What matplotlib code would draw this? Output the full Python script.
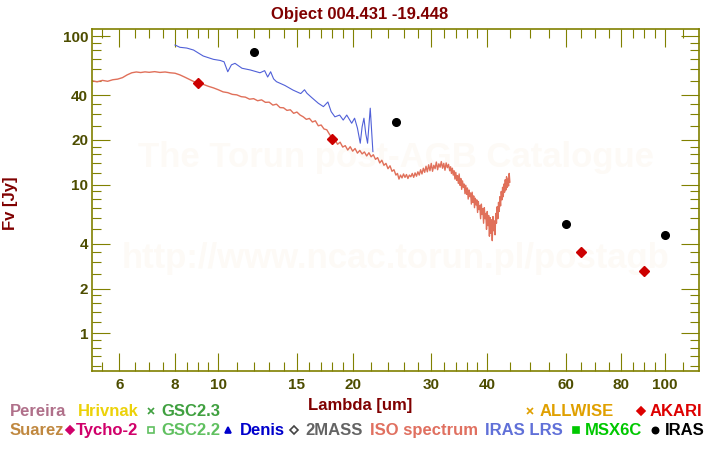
import matplotlib
matplotlib.use('Agg')
import matplotlib.pyplot as plt
from matplotlib.lines import Line2D

plt.rcParams['font.family'] = ['Liberation Sans', 'DejaVu Sans']
plt.rcParams['font.weight'] = 'bold'

# ISO spectrum (wavelength um, flux Jy)
iso_wl = [5.22, 5.35, 5.5, 5.65, 5.8, 5.95, 6.1, 6.25, 6.4, 6.55, 6.7, 6.85, 7.0, 7.2, 7.4,
          7.6, 7.8, 8.0, 8.2, 8.4, 8.6, 8.8, 9.0,
          9.25, 9.5, 9.75, 10.0, 10.25, 10.5, 10.75, 11.0, 11.25, 11.5, 11.75, 12.0, 12.25,
          12.5, 12.75, 13.0, 13.25, 13.5, 13.75, 14.0, 14.25, 14.5, 14.75, 15.0, 15.25, 15.5,
          15.75, 16.0, 16.25, 16.5, 16.75, 17.0, 17.25, 17.5, 17.75, 18.0, 18.25, 18.5, 18.75,
          19.0, 19.25, 19.5, 19.75, 20.0, 20.25, 20.5, 20.75, 21.0, 21.25, 21.5, 21.75, 22.0,
          22.25, 22.5, 22.75, 23.0, 23.25, 23.5, 23.75, 24.0, 24.25, 24.5, 24.75, 25.0,
          25.2, 25.4, 25.6, 25.8, 26.0, 26.2, 26.4, 26.6, 26.8, 27.0, 27.2, 27.4, 27.6, 27.8,
          28.0, 28.2, 28.4, 28.6, 28.8, 29.0, 29.2, 29.4, 29.6, 29.8, 30.0, 30.2, 30.4, 30.6,
          30.8, 31.0, 31.2, 31.4, 31.6, 31.8, 32.0, 32.2, 32.4, 32.6, 32.8, 33.0,
          33.15, 33.3, 33.45, 33.6, 33.75, 33.9, 34.05, 34.2, 34.35, 34.5, 34.65, 34.8, 34.95,
          35.1, 35.25, 35.4, 35.55, 35.7, 35.85, 36.0, 36.15, 36.3, 36.45, 36.6, 36.75, 36.9,
          37.05, 37.2, 37.35, 37.5, 37.65, 37.8, 37.95, 38.1, 38.25, 38.4, 38.55, 38.7, 38.85,
          39.0, 39.15, 39.3, 39.45, 39.6, 39.75, 39.9, 40.05, 40.2, 40.35, 40.5, 40.65, 40.8,
          40.95, 41.1, 41.25, 41.4, 41.55, 41.7, 41.85, 42.0, 42.15, 42.3, 42.45, 42.6, 42.75,
          42.9, 43.05, 43.2, 43.35, 43.5, 43.65, 43.8, 43.95, 44.1, 44.25, 44.4, 44.55, 44.7,
          44.85, 45.0]
iso_fl = [50.0, 49.2, 50.3, 49.6, 50.8, 51.3, 52.5, 54.8, 56.6, 57.3, 56.8, 57.4, 57.0, 57.6, 56.9,
          57.3, 56.6, 56.2, 54.8, 53.0, 51.2, 49.5, 48.2,
          47.3, 45.9, 44.8, 43.5, 42.1, 41.6, 40.5, 40.2, 39.1, 38.8, 37.6, 37.9, 36.7,
          37.2, 35.8, 35.9, 34.3, 34.8, 33.0, 32.9, 31.6, 31.9, 30.2, 30.8, 29.4, 28.6,
          27.5, 27.9, 26.4, 26.9, 24.9, 25.2, 23.7, 23.4, 21.8, 20.6, 20.1, 18.7, 19.3,
          17.9, 18.3, 17.1, 18.0, 16.8, 17.5, 16.3, 17.0, 16.1, 16.6, 15.6, 16.4, 15.4,
          15.9, 14.8, 15.2, 14.0, 14.6, 13.5, 13.9, 12.8, 13.4, 12.3, 12.6, 11.6,
          11.9, 10.9, 11.6, 11.1, 11.8, 11.2, 11.7, 11.0, 11.6, 11.3, 11.9, 11.2, 12.0, 11.4,
          12.2, 11.6, 12.6, 11.8, 12.9, 12.1, 13.3, 12.2, 13.6, 12.4, 13.9, 12.3, 13.5, 12.8,
          14.2, 12.6, 13.8, 13.1, 14.3, 12.9, 13.9, 12.5, 14.0, 13.0, 13.7, 12.4,
          13.2, 11.9, 12.9, 11.6, 12.4, 10.9, 12.1, 10.7, 11.5, 10.2, 11.8, 9.9, 11.0,
          9.3, 10.6, 9.6, 10.1, 8.7, 9.9, 8.6, 9.5, 8.0, 9.2, 8.3, 8.8, 7.4,
          8.9, 7.6, 8.4, 7.0, 8.1, 7.3, 7.9, 6.5, 7.7, 6.8, 7.2, 5.9, 7.4,
          6.3, 6.9, 5.5, 7.0, 5.9, 6.4, 5.0, 6.6, 5.3, 6.2, 4.5, 6.0, 4.7,
          5.8, 4.2, 6.1, 4.9, 5.7, 4.6, 6.4, 5.5, 7.1, 5.9, 7.6, 6.6, 8.3,
          7.2, 9.0, 7.9, 9.6, 8.3, 10.1, 8.9, 10.8, 9.2, 11.3, 9.6, 10.9, 9.8,
          11.9, 10.4]

# IRAS LRS spectrum
lrs_wl = [8.0, 8.2, 8.5, 8.8, 9.25, 9.75, 10.1, 10.3, 10.5, 10.7, 10.9, 11.3, 11.8, 12.4,
          12.7, 12.9, 13.1, 13.3, 13.5, 14.1, 14.7, 15.3, 15.6, 15.8, 16.2, 16.75, 17.2, 17.6,
          17.9, 18.25, 18.7, 19.05, 19.4, 19.9, 20.2, 20.5, 20.8, 21.0, 21.2, 21.4, 21.6,
          21.9, 22.2]
lrs_fl = [87, 84, 83, 80.5, 73.4, 69.7, 68.5, 67.1, 57.5, 64.0, 65.5, 60.7, 59.1, 56.6,
          58.5, 53.0, 57.5, 51.5, 49.3, 46.5, 43.3, 41.0, 43.5, 41.2, 38.5, 35.3, 33.5, 36.0,
          31.0, 28.6, 29.4, 27.2, 29.4, 25.9, 28.0, 24.0, 19.0, 24.5, 28.0, 22.0, 19.0,
          32.7, 16.7]

# photometry
iras_wl = [12, 25, 60, 100]
iras_fl = [77.7, 26.3, 5.42, 4.57]
akari_wl = [9, 18, 65, 90]
akari_fl = [48.1, 20.2, 3.51, 2.62]

x_major = [6, 8, 10, 15, 20, 30, 40, 60, 80, 100]
x_minor = [5.5, 6.5, 7, 7.5, 8.5, 9, 9.5, 11, 12, 13, 14, 16, 17, 18, 19, 22, 24, 26, 28,
           32, 34, 36, 38, 45, 50, 55, 65, 70, 75, 85, 90, 95, 110]
y_major = [1, 2, 4, 10, 20, 40, 100]
y_minor = [0.6, 0.7, 0.8, 0.9, 1.2, 1.4, 1.6, 1.8, 2.5, 3, 3.5, 5, 6, 7, 8, 9,
           12, 14, 16, 18, 25, 30, 35, 50, 60, 70, 80, 90]

olive = '#808000'
tick_text = '#4d4d00'
dark_red = '#800000'

W, H = 720, 450
fig = plt.figure(figsize=(7.2, 4.5), dpi=100)
ax = fig.add_axes([92.3 / W, 1 - 370.7 / H, 607 / W, 341.4 / H])

# watermark
ax.text(0.5, 0.625, 'The Torun post-AGB Catalogue', transform=ax.transAxes, ha='center',
        va='center', fontsize=25, color='#fdfaf6', zorder=0)
ax.text(0.5, 0.33, 'http://www.ncac.torun.pl/postagb', transform=ax.transAxes, ha='center',
        va='center', fontsize=25, color='#fdfaf6', zorder=0)

ax.plot(iso_wl, iso_fl, color='#e0705a', lw=1.0, zorder=2)
ax.plot(lrs_wl, lrs_fl, color='#5060d8', lw=0.8, zorder=2)
ax.plot(iras_wl, iras_fl, 'o', color='black', ms=5.5, zorder=4)
ax.plot(akari_wl, akari_fl, 'D', color='#cc0000', ms=5.5, zorder=4)

ax.set_xscale('log')
ax.set_yscale('log')
ax.set_xlim(5.22, 119.6)
ax.set_ylim(0.56, 111)
ax.set_xticks(x_major)
ax.set_xticklabels([str(v) for v in x_major])
ax.set_xticks(x_minor, minor=True)
ax.set_xticklabels([], minor=True)
ax.set_yticks(y_major)
ax.set_yticklabels([str(v) for v in y_major])
ax.set_yticks(y_minor, minor=True)
ax.set_yticklabels([], minor=True)

for s in ax.spines.values():
    s.set_color(olive)
    s.set_linewidth(1.2)
ax.tick_params(which='both', direction='in', top=True, right=True, color=olive,
               labelcolor=tick_text, labelsize=11)
ax.tick_params(which='major', length=13, width=0.8)
ax.tick_params(which='minor', length=6.5, width=0.8)
ax.tick_params(axis='x', pad=5)
ax.tick_params(axis='y', pad=3)

fig.text(360 / W, 1 - 19.5 / H, 'Object 004.431 -19.448', ha='center', va='baseline',
         fontsize=12, color=dark_red)
fig.text(360 / W, 1 - 410 / H, 'Lambda [um]', ha='center', va='baseline',
         fontsize=12, color=dark_red)
fig.text(10 / W, 1 - 203 / H, 'Fv [Jy]', ha='center', va='center', rotation=90,
         fontsize=12, color=dark_red)

# legend rows
row1, row2 = 415.5, 435
legend_text = [
    (10, row1, 'Pereira', '#b0708a'),
    (78, row1, 'Hrivnak', '#ecd20a'),
    (161, row1, 'GSC2.3', '#40a040'),
    (540, row1, 'ALLWISE', '#e0a000'),
    (650, row1, 'AKARI', '#dd0000'),
    (10, row2, 'Suarez', '#c08840'),
    (76, row2, 'Tycho-2', '#d0006a'),
    (161, row2, 'GSC2.2', '#60c060'),
    (240, row2, 'Denis', '#0000cc'),
    (305, row2, '2MASS', '#646464'),
    (370, row2, 'ISO spectrum', '#e07060'),
    (485, row2, 'IRAS LRS', '#6070d8'),
    (585, row2, 'MSX6C', '#00c800'),
    (665, row2, 'IRAS', 'black'),
]
for x, y, s, c in legend_text:
    fig.text(x / W, 1 - y / H, s, ha='left', va='baseline', fontsize=12, color=c)

legend_marks = [
    (151, row1 - 5, 'x', '#40a040', 'full'),
    (530, row1 - 5, 'x', '#e0a000', 'full'),
    (641, row1 - 5, 'D', '#dd0000', 'full'),
    (70, row2 - 5, 'D', '#d0006a', 'full'),
    (151, row2 - 5, 's', '#60c060', 'none'),
    (228, row2 - 5, '^', '#0000cc', 'full'),
    (294, row2 - 5, 'D', '#444444', 'none'),
    (576, row2 - 5, 's', '#00c800', 'full'),
    (655, row2 - 5, 'o', 'black', 'full'),
]
for x, y, m, c, fs in legend_marks:
    fig.add_artist(Line2D([x / W], [1 - y / H], marker=m, color=c, ms=4.5, mew=1.2,
                          fillstyle=fs, transform=fig.transFigure))

fig.savefig('out.png', dpi=100)
